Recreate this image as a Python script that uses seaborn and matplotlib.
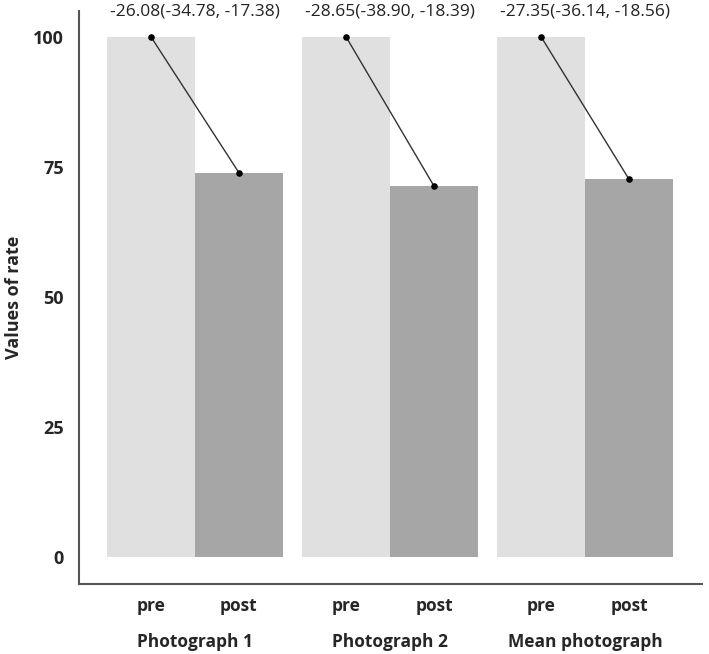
import matplotlib
matplotlib.use("Agg")
import matplotlib.pyplot as plt
import seaborn as sns
import pandas as pd

groups = ["Photograph 1", "Photograph 2", "Mean photograph"]
times = ["pre", "post"]
pre_values = [100, 100, 100]
post_values = [73.92, 71.35, 72.65]
annotations = ["-26.08(-34.78, -17.38)", "-28.65(-38.90, -18.39)", "-27.35(-36.14, -18.56)"]

sns.set_theme(style="white")
plt.rcParams["font.family"] = ["Open Sans", "DejaVu Sans"]

df = pd.DataFrame({
    "group": groups * 2,
    "time": ["pre"] * 3 + ["post"] * 3,
    "value": pre_values + post_values,
})

fig = plt.figure(figsize=(7.09, 6.54), dpi=100)
ax = fig.add_axes([0.1114, 0.107, 0.879, 0.876])
sns.barplot(data=df, x="group", y="value", hue="time", hue_order=times, order=groups,
            palette=["#e0e0e0", "#a6a6a6"], saturation=1, width=0.9, gap=0,
            ax=ax, legend=False, errorbar=None, linewidth=0)

pre_bars = ax.containers[0]
post_bars = ax.containers[1]
for pb, qb, txt in zip(pre_bars, post_bars, annotations):
    x0 = pb.get_x() + pb.get_width() / 2
    x1 = qb.get_x() + qb.get_width() / 2
    y0 = pb.get_height()
    y1 = qb.get_height()
    ax.plot([x0, x1], [y0, y1], color="#333333", lw=1.0, zorder=3)
    ax.scatter([x0, x1], [y0, y1], color="black", s=14, zorder=4)
    gc = (pb.get_x() + qb.get_x() + qb.get_width()) / 2
    ax.text(gc, 104.9, txt, ha="center", va="center", fontsize=12.5, color="#222222", clip_on=False)

ax.set_xlim(-0.595, 2.6)
ax.set_ylim(-5.2, 105)
ax.set_yticks([0, 25, 50, 75, 100])
ax.set_yticklabels(["0", "25", "50", "75", "100"], fontsize=13, fontweight="bold")
ax.set_ylabel("Values of rate", fontsize=13, fontweight="bold", labelpad=7)
ax.set_xlabel("")

ax.set_xticks(range(len(groups)))
ax.set_xticklabels(groups, fontsize=12.5, fontweight="bold")
ax.tick_params(axis="x", which="major", length=3, width=1, pad=32.5, color="#555555")
ax.tick_params(axis="y", which="major", length=3, width=1, pad=8, color="#555555")

minor_pos = []
minor_lab = []
for pb, qb in zip(pre_bars, post_bars):
    minor_pos += [pb.get_x() + pb.get_width() / 2, qb.get_x() + qb.get_width() / 2]
    minor_lab += times
ax.set_xticks(minor_pos, minor=True)
ax.set_xticklabels(minor_lab, minor=True, fontsize=12.5, fontweight="bold")
ax.tick_params(axis="x", which="minor", length=0, pad=9)

for s in ["top", "right"]:
    ax.spines[s].set_visible(False)
for s in ["left", "bottom"]:
    ax.spines[s].set_color("#555555")
    ax.spines[s].set_linewidth(1.5)

fig.savefig("out.png", dpi=100)
